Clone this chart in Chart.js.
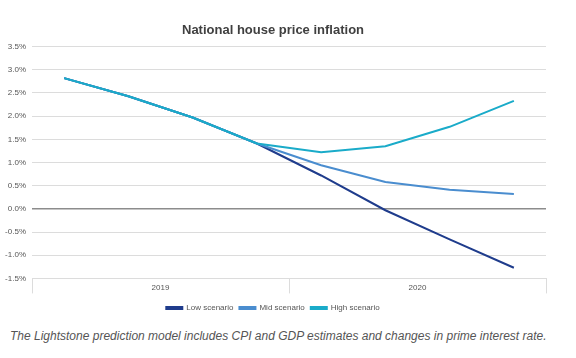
<!DOCTYPE html>
<html>
<head>
<meta charset="utf-8">
<script src="https://cdn.jsdelivr.net/npm/chart.js@4"></script>
<style>
  body { margin: 0; background: #fff; font-family: "Liberation Sans", Arial, sans-serif; }
  #wrap { position: relative; width: 560px; height: 324px; }
  #note { position: absolute; left: 10px; top: 329px; margin: 0; font-size: 12px; font-style: italic; color: #555; white-space: nowrap; }
</style>
</head>
<body>
<div id="wrap"><canvas id="chart"></canvas></div>
<p id="note">The Lightstone prediction model includes CPI and GDP estimates and changes in prime interest rate.</p>
<script>
const quarters = ['Q1 2019', 'Q2 2019', 'Q3 2019', 'Q4 2019', 'Q1 2020', 'Q2 2020', 'Q3 2020', 'Q4 2020'];
const years = ['2019', '2020'];

const lowScenario = [2.82, 2.43, 1.97, 1.41, 0.72, -0.03, -0.66, -1.27];
const midScenario = [2.82, 2.43, 1.97, 1.41, 0.94, 0.58, 0.41, 0.32];
const highScenario = [2.82, 2.43, 1.97, 1.41, 1.22, 1.35, 1.77, 2.33];

const gridColor = '#dcdcdc';
const textColor = '#555';

function series(label, data, color) {
  return {
    label: label,
    data: data,
    borderColor: color,
    backgroundColor: color,
    borderWidth: 2,
    pointRadius: 0,
    tension: 0,
    xAxisID: 'x'
  };
}

// high first so it is drawn on top; legend is reversed to read Low, Mid, High
const data = {
  labels: quarters,
  datasets: [
    series('High scenario', highScenario, '#1aabc9'),
    series('Mid scenario', midScenario, '#4a8dcf'),
    series('Low scenario', lowScenario, '#1f3c8c')
  ]
};

const config = {
  type: 'line',
  data: data,
  options: {
    responsive: true,
    maintainAspectRatio: false,
    animation: false,
    layout: { padding: { left: 0, right: 14, bottom: 2 } },
    plugins: {
      title: {
        display: true,
        text: 'National house price inflation',
        color: '#404040',
        font: { family: 'Liberation Sans', size: 13, weight: 'bold' },
        padding: { top: 23, bottom: 8 }
      },
      legend: {
        position: 'bottom',
        reverse: true,
        labels: {
          boxWidth: 16,
          boxHeight: 2,
          padding: 6,
          color: textColor,
          font: { family: 'Liberation Sans', size: 8 }
        }
      },
      tooltip: { enabled: false }
    },
    scales: {
      x: {
        type: 'category',
        offset: true,
        display: false
      },
      // long year separators, takes no height so the labels sit between them
      yearTicks: {
        type: 'category',
        labels: years,
        position: 'bottom',
        offset: true,
        weight: 0,
        grid: {
          offset: true,
          drawOnChartArea: false,
          color: gridColor,
          tickLength: 15
        },
        border: { color: gridColor },
        ticks: { display: false },
        afterFit: function (scale) { scale.height = 0; }
      },
      years: {
        type: 'category',
        labels: years,
        position: 'bottom',
        offset: true,
        weight: 1,
        grid: { display: false, drawTicks: false },
        border: { display: false },
        ticks: {
          color: textColor,
          padding: 5,
          font: { family: 'Liberation Sans', size: 8 }
        }
      },
      y: {
        min: -1.5,
        max: 3.5,
        afterFit: function (scale) { scale.width = 32; },
        ticks: {
          stepSize: 0.5,
          color: textColor,
          padding: 6,
          font: { family: 'Liberation Sans', size: 8 },
          callback: function (v) { return v.toFixed(1) + '%'; }
        },
        grid: {
          drawTicks: false,
          color: function (ctx) { return ctx.tick && ctx.tick.value === 0 ? '#8c8c8c' : gridColor; },
          lineWidth: function (ctx) { return ctx.tick && ctx.tick.value === 0 ? 1.5 : 1; }
        },
        border: { display: false }
      }
    }
  }
};

const chart = new Chart(document.getElementById('chart'), config);
</script>
</body>
</html>
